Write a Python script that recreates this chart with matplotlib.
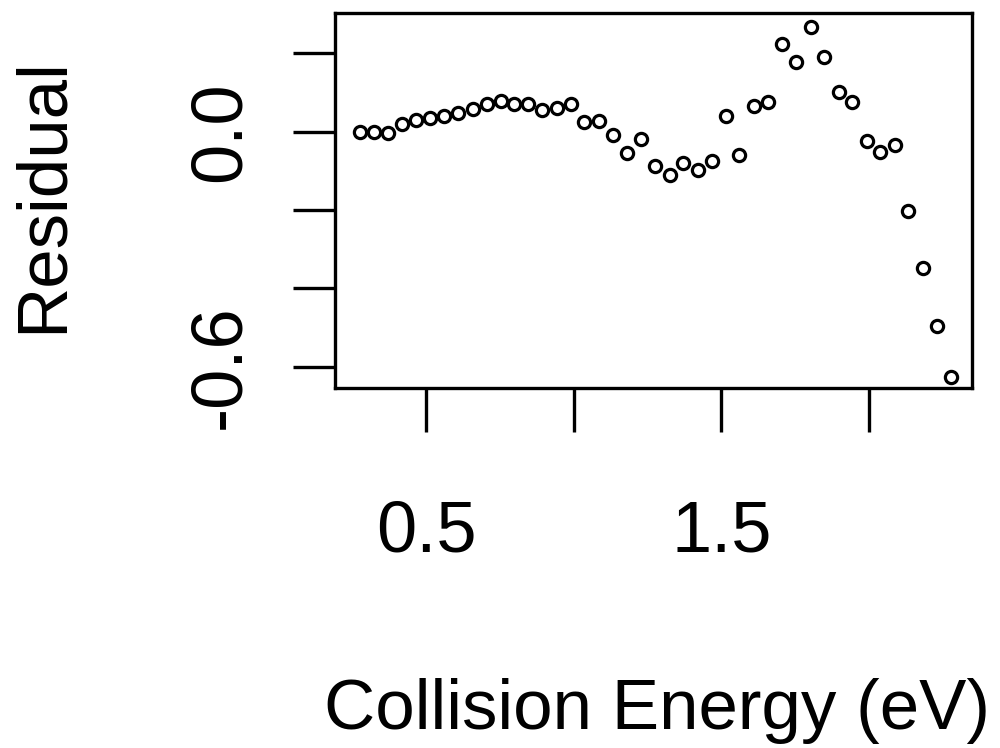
import matplotlib
matplotlib.use("Agg")
import matplotlib.pyplot as plt

plt.rcParams['font.family'] = ['Liberation Sans', 'DejaVu Sans']

# collision energy (eV) and residual values
energy = [0.277, 0.325, 0.372, 0.418, 0.466, 0.514, 0.562, 0.609, 0.658, 0.706,
          0.753, 0.799, 0.846, 0.894, 0.943, 0.990, 1.036, 1.087, 1.132, 1.180,
          1.227, 1.275, 1.326, 1.371, 1.420, 1.467, 1.516, 1.561, 1.612, 1.659,
          1.707, 1.753, 1.803, 1.849, 1.899, 1.944, 1.992, 2.037, 2.088, 2.133,
          2.184, 2.229, 2.278]
residual = [0.000, -0.001, -0.003, 0.020, 0.030, 0.035, 0.039, 0.049, 0.057, 0.071,
            0.079, 0.070, 0.071, 0.055, 0.060, 0.071, 0.026, 0.028, -0.008, -0.054,
            -0.019, -0.087, -0.110, -0.081, -0.098, -0.075, 0.040, -0.059, 0.066, 0.075,
            0.224, 0.179, 0.267, 0.190, 0.101, 0.077, -0.023, -0.051, -0.034, -0.202,
            -0.347, -0.495, -0.627]

x_ticks = [0.5, 1.0, 1.5, 2.0]
x_labels = ["0.5", "", "1.5", ""]
y_ticks = [0.2, 0.0, -0.2, -0.4, -0.6]
y_labels = ["", "0.0", "", "", "-0.6"]

fig = plt.figure(figsize=(10, 7.48), dpi=100)
ax = fig.add_axes([0.335, 0.4813, 0.637, 0.5013])

ax.plot(energy, residual, 'o', mfc='none', mec='black', ms=8.8, mew=2.3)

ax.set_xlim(0.192, 2.349)
ax.set_ylim(-0.654, 0.303)

ax.set_xticks(x_ticks)
ax.set_xticklabels(x_labels, fontsize=52)
ax.set_yticks(y_ticks)
ax.set_yticklabels(y_labels, fontsize=52, rotation=90, va='center')
ax.tick_params(axis='x', direction='out', length=32, width=2.4, pad=48)
ax.tick_params(axis='y', direction='out', length=30, width=2.4, pad=28)
for s in ax.spines.values():
    s.set_linewidth(2.4)

fig.text(0.657, 1 - 729 / 748, "Collision Energy (eV)", fontsize=51,
         ha='center', va='baseline')
fig.text(44 / 1000, 1 - 195 / 748, "Residual", fontsize=51, rotation=90,
         ha='center', va='center')

fig.savefig("out.png", dpi=100)
